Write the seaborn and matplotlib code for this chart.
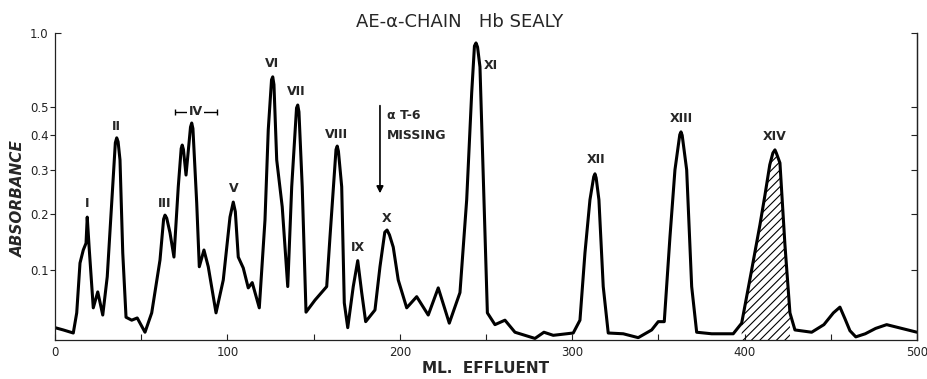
import numpy as np
import pandas as pd
import matplotlib
matplotlib.use("Agg")
import matplotlib.pyplot as plt
import seaborn as sns

# ---------------- data ----------------
effluent_ml = [
    0, 4.8, 10.6, 12.6, 14.5, 16.4, 18.0, 18.7, 19.9, 22.2,
    24.8, 27.7, 30.3, 32.9, 35.0, 35.8, 36.6, 37.7, 39.3, 41.2,
    44.5, 47.7, 52.2, 56.1, 60.9, 63.0, 63.8, 64.8, 66.7, 69.0,
    71.5, 73.2, 73.8, 74.5, 76.0, 78.6, 79.3, 80.0, 82.2, 83.7,
    86.4, 88.9, 93.4, 97.6, 101.5, 103.4, 104.6, 106.3, 109.2, 112.1,
    114.4, 118.5, 121.8, 123.7, 125.6, 126.3, 127.0, 128.6, 131.8, 135.0,
    137.3, 140.1, 140.8, 141.5, 143.4, 145.6, 150.8, 157.6, 159.5, 163.0,
    163.7, 164.4, 166.3, 167.8, 169.8, 173.0, 175.6, 177.9, 180.2, 185.6,
    188.5, 191.3, 192.6, 194.0, 196.2, 199.1, 204.0, 209.8, 216.5, 222.3,
    228.7, 234.9, 238.8, 241.7, 243.3, 244.2, 245.1, 246.5, 248.8, 250.8,
    255.2, 261.0, 266.8, 278.4, 283.6, 289.0, 300.6, 304.5, 307.4, 310.3,
    312.5, 313.2, 313.9, 315.5, 318.0, 320.9, 329.6, 338.3, 346.1, 349.9,
    353.4, 356.7, 359.6, 362.4, 363.1, 363.8, 366.4, 369.3, 372.2, 380.9,
    393.4, 398.3, 404.1, 408.9, 411.8, 414.6, 416.4, 417.6, 418.4, 420.5,
    423.4, 426.3, 429.2, 438.9, 446.0, 451.5, 455.3, 458.2, 461.1, 464.5,
    470.0, 476.0, 482.4, 491.1, 500.0,
]
absorbance = [
    0.016, 0.013, 0.009, 0.036, 0.111, 0.133, 0.145, 0.194, 0.133, 0.043,
    0.066, 0.033, 0.089, 0.223, 0.375, 0.390, 0.378, 0.326, 0.128, 0.030,
    0.026, 0.029, 0.010, 0.036, 0.116, 0.190, 0.198, 0.192, 0.164, 0.121,
    0.259, 0.358, 0.368, 0.355, 0.287, 0.425, 0.439, 0.420, 0.223, 0.105,
    0.133, 0.105, 0.036, 0.084, 0.194, 0.225, 0.205, 0.121, 0.103, 0.072,
    0.080, 0.043, 0.188, 0.416, 0.625, 0.641, 0.600, 0.326, 0.215, 0.074,
    0.259, 0.495, 0.507, 0.480, 0.259, 0.037, 0.054, 0.074, 0.156, 0.355,
    0.365, 0.350, 0.259, 0.050, 0.016, 0.074, 0.115, 0.065, 0.024, 0.040,
    0.105, 0.165, 0.169, 0.160, 0.138, 0.084, 0.043, 0.059, 0.033, 0.072,
    0.022, 0.065, 0.230, 0.560, 0.860, 0.889, 0.850, 0.700, 0.230, 0.036,
    0.020, 0.026, 0.010, 0.002, 0.010, 0.006, 0.009, 0.026, 0.128, 0.230,
    0.283, 0.290, 0.280, 0.230, 0.074, 0.009, 0.008, 0.003, 0.013, 0.024,
    0.024, 0.156, 0.300, 0.400, 0.409, 0.398, 0.300, 0.074, 0.010, 0.008,
    0.008, 0.022, 0.100, 0.179, 0.240, 0.313, 0.345, 0.354, 0.345, 0.318,
    0.142, 0.036, 0.013, 0.010, 0.020, 0.036, 0.044, 0.028, 0.012, 0.004,
    0.008, 0.015, 0.020, 0.015, 0.010,
]

peak_names = ["I", "II", "III", "V", "VI", "VII", "VIII", "IX", "X",
              "XI", "XII", "XIII", "XIV"]
peak_label_ml = [18.4, 35.8, 63.8, 103.4, 125.7, 140.2, 163.4, 175.6, 192.6,
                 252.7, 313.6, 363.1, 417.6]
peak_label_abs = [0.223, 0.426, 0.223, 0.256, 0.720, 0.564, 0.402, 0.138, 0.192,
                  0.707, 0.326, 0.454, 0.393]

group_iv_ml = [69.6, 93.8]          # extent of fraction group IV
group_iv_abs = 0.480
missing_arrow_ml = 188.5
missing_arrow_abs = [0.516, 0.238]  # from, to
missing_text_ml = 192.6
missing_text_abs = [0.468, 0.399]

hatched_range_ml = [397, 427]

x_major_ticks = [0, 100, 200, 300, 400, 500]
x_minor_ticks = [50, 150, 250, 350, 450]
y_ticks = [0.1, 0.2, 0.3, 0.4, 0.5]
y_tick_labels = ["0.1", "0.2", "0.3", "0.4", "0.5"]
y_top_tick = [1.0]
y_top_label = ["1.0"]

# ---------------- style ----------------
sns.set_style("ticks")
plt.rcParams["font.family"] = ["DejaVu Sans"]
plt.rcParams["hatch.linewidth"] = 0.8


def fwd(a):
    a = np.asarray(a, dtype=float)
    return 1.0 - np.power(10.0, -a)


def inv(u):
    u = np.clip(np.asarray(u, dtype=float), -10.0, 0.999999)
    return -np.log10(1.0 - u)


fig = plt.figure(figsize=(9.28, 3.79), dpi=100)
ax = fig.add_axes([55 / 928, 1 - 340 / 379, 862 / 928, 307 / 379])

df = pd.DataFrame({"ml": effluent_ml, "A": absorbance})
sns.lineplot(data=df, x="ml", y="A", ax=ax, color="black", linewidth=2.2,
             estimator=None, sort=False, solid_joinstyle="round",
             solid_capstyle="round")

ax.set_yscale("function", functions=(fwd, inv))
ax.set_xlim(0, 500)
ax.set_ylim(0, 1.0)

# hatched fraction XIV
ml_arr = np.array(effluent_ml)
a_arr = np.array(absorbance)
mask = (ml_arr >= hatched_range_ml[0]) & (ml_arr <= hatched_range_ml[1])
ax.fill_between(ml_arr[mask], 0, a_arr[mask], facecolor="none",
                edgecolor="black", hatch="////", linewidth=0)

# ticks
ax.set_xticks(x_major_ticks)
ax.set_xticklabels([str(v) for v in x_major_ticks])
ax.set_xticks(x_minor_ticks, minor=True)
ax.tick_params(axis="x", which="both", direction="in", length=4, width=0.8,
               pad=4, labelsize=8.5, colors="#222222")

ax.set_yticks(y_ticks)
ax.set_yticklabels(y_tick_labels)
ax.set_yticks(y_top_tick, minor=True)
ax.set_yticklabels(y_top_label, minor=True)
ax.tick_params(axis="y", which="major", direction="out", length=3.5, width=0.8,
               pad=1, labelsize=8.5, colors="#222222")
ax.tick_params(axis="y", which="minor", direction="in", length=4, width=0.8,
               pad=4.5, labelsize=8.5, colors="#222222")

ax2 = ax.twinx()
ax2.set_yscale("function", functions=(fwd, inv))
ax2.set_ylim(0, 1.0)
ax2.set_yticks(y_ticks + y_top_tick)
ax2.set_yticklabels([])
ax2.tick_params(axis="y", direction="in", length=4, width=0.8, colors="#222222")

for a in (ax, ax2):
    a.spines["top"].set_visible(False)
    for s in ("left", "right", "bottom"):
        a.spines[s].set_linewidth(0.9)
        a.spines[s].set_color("#222222")
ax2.spines["left"].set_visible(False)
ax2.spines["bottom"].set_visible(False)

# labels
ax.set_xlabel("ML.  EFFLUENT", fontsize=11, fontweight="bold")
ax.xaxis.set_label_coords(0.5, -0.068)
ax.set_ylabel("ABSORBANCE", fontsize=11, fontweight="bold", fontstyle="italic")
ax.yaxis.set_label_coords(-0.034, 0.46)
fig.text(460 / 928, 1 - 22 / 379, "AE-\u03b1-CHAIN   Hb SEALY", ha="center",
         va="center", fontsize=13)

# peak labels
for name, x, y in zip(peak_names, peak_label_ml, peak_label_abs):
    ax.text(x, y, name, ha="center", va="center", fontsize=9, fontweight="bold")

# group IV bracket
iv_center = 0.5 * (group_iv_ml[0] + group_iv_ml[1])
iv_half = 0.5 * (group_iv_ml[1] - group_iv_ml[0])
ax.errorbar([iv_center], [group_iv_abs], xerr=[iv_half], fmt="none",
            ecolor="black", elinewidth=1.0, capsize=2.5, capthick=1.0)
ax.text(iv_center, group_iv_abs, "IV", ha="center", va="center", fontsize=9,
        fontweight="bold",
        bbox=dict(facecolor="white", edgecolor="none", pad=1.0))

# alpha T-6 missing arrow
ax.annotate("", xy=(missing_arrow_ml, missing_arrow_abs[1]),
            xytext=(missing_arrow_ml, missing_arrow_abs[0]),
            arrowprops=dict(arrowstyle="-|>", color="black", lw=1.2,
                            mutation_scale=10))
ax.text(missing_text_ml, missing_text_abs[0], "\u03b1 T-6", ha="left",
        va="center", fontsize=9, fontweight="bold")
ax.text(missing_text_ml, missing_text_abs[1], "MISSING", ha="left",
        va="center", fontsize=9, fontweight="bold")

fig.savefig("out.png", dpi=100)
